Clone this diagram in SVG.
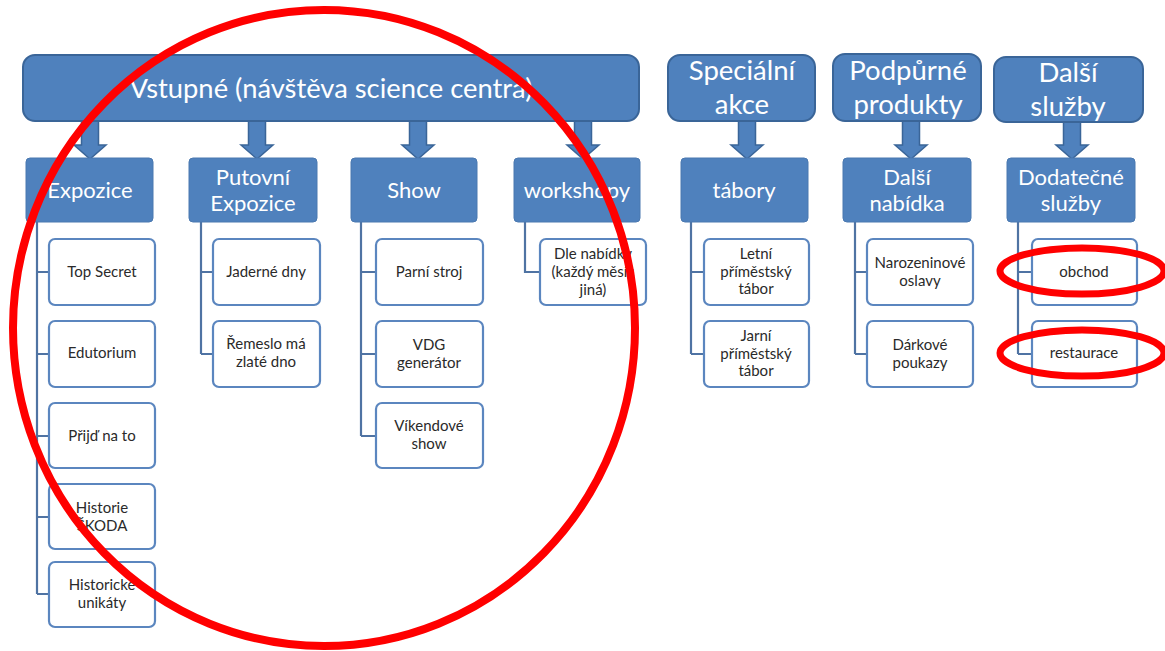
<svg xmlns="http://www.w3.org/2000/svg" width="1165" height="651" viewBox="0 0 1165 651">
  <style>
    .top { fill: #4f81bd; stroke: #3a6598; stroke-width: 2; }
    .head { fill: #4f81bd; stroke: #4a78b0; stroke-width: 1; }
    .leaf { fill: #ffffff; stroke: #5b86bf; stroke-width: 2.2; }
    .arrow { fill: #4f81bd; stroke: #3a6598; stroke-width: 1.5; stroke-linejoin: miter; }
    .conn { fill: none; stroke: #4f73a3; stroke-width: 2.2; }
    .ttop { font-family: Lato, "Liberation Sans", sans-serif; font-size: 27.5px; fill: #ffffff; text-anchor: middle; }
    .thead { font-family: Lato, "Liberation Sans", sans-serif; font-size: 22px; fill: #ffffff; text-anchor: middle; }
    .tleaf { font-family: Lato, "Liberation Sans", sans-serif; font-size: 15px; fill: #2a2a2a; text-anchor: middle; }
    .mark { fill: none; stroke: #ff0000; }
  </style>

  <!-- block arrows from category bars down to the group headers -->
  <g id="arrows">
    <path class="arrow" d="M81.5,121 V145 H74 L90,159 L106,145 H98.5 V121 Z"/>
    <path class="arrow" d="M248.5,121 V145 H241 L257,159 L273,145 H265.5 V121 Z"/>
    <path class="arrow" d="M409.5,121 V145 H402 L418,159 L434,145 H426.5 V121 Z"/>
    <path class="arrow" d="M574.5,121 V145 H567 L583,159 L599,145 H591.5 V121 Z"/>
    <path class="arrow" d="M738.5,121 V145 H731 L747,159 L763,145 H755.5 V121 Z"/>
    <path class="arrow" d="M902.5,121 V145 H895 L911,159 L927,145 H919.5 V121 Z"/>
    <path class="arrow" d="M1063.5,122 V145 H1056 L1072,159 L1088,145 H1080.5 V122 Z"/>
  </g>

  <!-- tree connectors from each header to its items -->
  <g id="connectors">
    <path class="conn" d="M37,222 V594 M37,272 H49 M37,354 H49 M37,436 H49 M37,517 H49 M37,594 H49"/>
    <path class="conn" d="M201,222 V354 M201,272 H213 M201,354 H213"/>
    <path class="conn" d="M361,222 V436 M361,272 H376 M361,354 H376 M361,436 H376"/>
    <path class="conn" d="M525,222 V272 H540"/>
    <path class="conn" d="M691,222 V354 M691,272 H704 M691,354 H704"/>
    <path class="conn" d="M855,222 V354 M855,272 H867 M855,354 H867"/>
    <path class="conn" d="M1018,222 V354 M1018,272 H1032 M1018,354 H1032"/>
  </g>

  <!-- category bars -->
  <g id="vstupne">
    <rect class="top" x="23" y="55" width="616" height="66" rx="12"/>
    <text class="ttop" x="331" y="98" textLength="403" lengthAdjust="spacingAndGlyphs">Vstupné (návštěva science centra)</text>
  </g>
  <g id="specialni-akce">
    <rect class="top" x="668" y="55" width="147" height="66" rx="12"/>
    <text class="ttop" x="742" y="80">Speciální</text>
    <text class="ttop" x="742" y="114">akce</text>
  </g>
  <g id="podpurne-produkty">
    <rect class="top" x="833" y="54" width="148" height="67" rx="12"/>
    <text class="ttop" x="908" y="80">Podpůrné</text>
    <text class="ttop" x="908" y="114">produkty</text>
  </g>
  <g id="dalsi-sluzby">
    <rect class="top" x="994" y="57" width="149" height="65" rx="12"/>
    <text class="ttop" x="1068" y="82">Další</text>
    <text class="ttop" x="1068" y="116">služby</text>
  </g>

  <!-- group headers -->
  <g id="expozice">
    <rect class="head" x="26" y="158" width="127" height="64" rx="4"/>
    <text class="thead" x="90" y="198">Expozice</text>
  </g>
  <g id="putovni-expozice">
    <rect class="head" x="189" y="158" width="128" height="64" rx="4"/>
    <text class="thead" x="253" y="185">Putovní</text>
    <text class="thead" x="253" y="211">Expozice</text>
  </g>
  <g id="show">
    <rect class="head" x="351" y="158" width="126" height="64" rx="4"/>
    <text class="thead" x="414" y="198">Show</text>
  </g>
  <g id="workshopy">
    <rect class="head" x="514" y="158" width="126" height="64" rx="4"/>
    <text class="thead" x="577" y="198">workshopy</text>
  </g>
  <g id="tabory">
    <rect class="head" x="681" y="158" width="127" height="64" rx="4"/>
    <text class="thead" x="744" y="198">tábory</text>
  </g>
  <g id="dalsi-nabidka">
    <rect class="head" x="843" y="158" width="128" height="64" rx="4"/>
    <text class="thead" x="907" y="185">Další</text>
    <text class="thead" x="907" y="211">nabídka</text>
  </g>
  <g id="dodatecne-sluzby">
    <rect class="head" x="1007" y="158" width="128" height="64" rx="4"/>
    <text class="thead" x="1071" y="185">Dodatečné</text>
    <text class="thead" x="1071" y="211">služby</text>
  </g>

  <!-- items: Expozice -->
  <g id="top-secret">
    <rect class="leaf" x="49" y="239" width="106" height="66" rx="6"/>
    <text class="tleaf" x="102" y="277">Top Secret</text>
  </g>
  <g id="edutorium">
    <rect class="leaf" x="49" y="321" width="106" height="66" rx="6"/>
    <text class="tleaf" x="102" y="358">Edutorium</text>
  </g>
  <g id="prijd-na-to">
    <rect class="leaf" x="49" y="403" width="106" height="65" rx="6"/>
    <text class="tleaf" x="102" y="441">Přijď na to</text>
  </g>
  <g id="historie-skoda">
    <rect class="leaf" x="49" y="484" width="106" height="65" rx="6"/>
    <text class="tleaf" x="102" y="513">Historie</text>
    <text class="tleaf" x="102" y="531">ŠKODA</text>
  </g>
  <g id="historicke-unikaty">
    <rect class="leaf" x="49" y="562" width="106" height="65" rx="6"/>
    <text class="tleaf" x="102" y="590">Historické</text>
    <text class="tleaf" x="102" y="608">unikáty</text>
  </g>

  <!-- items: Putovní Expozice -->
  <g id="jaderne-dny">
    <rect class="leaf" x="213" y="239" width="107" height="66" rx="6"/>
    <text class="tleaf" x="266" y="277">Jaderné dny</text>
  </g>
  <g id="remeslo">
    <rect class="leaf" x="213" y="321" width="107" height="66" rx="6"/>
    <text class="tleaf" x="266" y="349">Řemeslo má</text>
    <text class="tleaf" x="266" y="367">zlaté dno</text>
  </g>

  <!-- items: Show -->
  <g id="parni-stroj">
    <rect class="leaf" x="376" y="239" width="107" height="66" rx="6"/>
    <text class="tleaf" x="429" y="277">Parní stroj</text>
  </g>
  <g id="vdg-generator">
    <rect class="leaf" x="376" y="321" width="107" height="66" rx="6"/>
    <text class="tleaf" x="429" y="350">VDG</text>
    <text class="tleaf" x="429" y="368">generátor</text>
  </g>
  <g id="vikendove-show">
    <rect class="leaf" x="376" y="403" width="107" height="65" rx="6"/>
    <text class="tleaf" x="429" y="431">Víkendové</text>
    <text class="tleaf" x="429" y="449">show</text>
  </g>

  <!-- items: workshopy -->
  <g id="dle-nabidky">
    <rect class="leaf" x="540" y="239" width="106" height="66" rx="6"/>
    <text class="tleaf" x="593" y="259">Dle nabídky</text>
    <text class="tleaf" x="593" y="277">(každý měsíc</text>
    <text class="tleaf" x="593" y="295">jiná)</text>
  </g>

  <!-- items: tábory -->
  <g id="letni-tabor">
    <rect class="leaf" x="704" y="239" width="105" height="66" rx="6"/>
    <text class="tleaf" x="756" y="259">Letní</text>
    <text class="tleaf" x="756" y="277">příměstský</text>
    <text class="tleaf" x="756" y="294">tábor</text>
  </g>
  <g id="jarni-tabor">
    <rect class="leaf" x="704" y="321" width="105" height="66" rx="6"/>
    <text class="tleaf" x="756" y="341">Jarní</text>
    <text class="tleaf" x="756" y="359">příměstský</text>
    <text class="tleaf" x="756" y="376">tábor</text>
  </g>

  <!-- items: Další nabídka -->
  <g id="narozeninove-oslavy">
    <rect class="leaf" x="867" y="239" width="106" height="66" rx="6"/>
    <text class="tleaf" x="920" y="268">Narozeninové</text>
    <text class="tleaf" x="920" y="286">oslavy</text>
  </g>
  <g id="darkove-poukazy">
    <rect class="leaf" x="867" y="321" width="106" height="66" rx="6"/>
    <text class="tleaf" x="920" y="350">Dárkové</text>
    <text class="tleaf" x="920" y="368">poukazy</text>
  </g>

  <!-- items: Dodatečné služby -->
  <g id="obchod">
    <rect class="leaf" x="1032" y="239" width="105" height="66" rx="6"/>
    <text class="tleaf" x="1084" y="277">obchod</text>
  </g>
  <g id="restaurace">
    <rect class="leaf" x="1032" y="321" width="105" height="66" rx="6"/>
    <text class="tleaf" x="1084" y="358">restaurace</text>
  </g>

  <!-- red hand-drawn highlight marks -->
  <g id="highlights">
    <ellipse class="mark" cx="324" cy="328" rx="311" ry="318" stroke-width="8"/>
    <ellipse class="mark" cx="1082" cy="271" rx="82" ry="23" stroke-width="7"/>
    <ellipse class="mark" cx="1082" cy="353" rx="82" ry="23" stroke-width="7"/>
  </g>
</svg>
